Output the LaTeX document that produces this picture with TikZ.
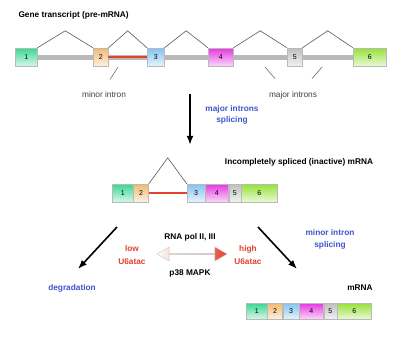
\documentclass[tikz,border=0pt]{standalone}
\usepackage{fontspec}
\setmainfont{Liberation Sans}
\usetikzlibrary{calc,arrows.meta,positioning,shapes.arrows,shadows,backgrounds}
\definecolor{exA}{RGB}{55,215,145}
\definecolor{exB}{RGB}{240,185,110}
\definecolor{exC}{RGB}{130,195,240}
\definecolor{exD}{RGB}{230,55,225}
\definecolor{exE}{RGB}{190,190,190}
\definecolor{exF}{RGB}{150,225,55}
\definecolor{labblue}{RGB}{60,85,205}
\definecolor{labred}{RGB}{225,65,45}
\tikzset{
  exon/.style={draw=gray!55, thin, top color=#1, bottom color=#1!20!white,
    minimum height=18pt, inner sep=0pt, font=\fontsize{7}{8}\selectfont,
    drop shadow={shadow xshift=0.8pt, shadow yshift=-1pt, opacity=0.25}},
  backbone/.style={draw=gray!55, line width=5pt},
  minorline/.style={draw=labred, line width=2.2pt},
  junction/.style={draw=gray!70!black, line width=0.6pt},
  pointer/.style={draw=gray!70!black, line width=0.5pt},
  arr/.style={-{Latex[length=3.2mm,width=2.4mm]}, line width=1.6pt},
  heading/.style={font=\fontsize{8.3}{10}\selectfont\bfseries},
  note/.style={font=\fontsize{8.3}{10}\selectfont, text=black!75},
  bluelab/.style={font=\fontsize{8.3}{11.5}\selectfont\bfseries, text=labblue, align=center},
  redlab/.style={font=\fontsize{8.3}{13}\selectfont\bfseries, text=labred, align=center}
}
\begin{document}
\begin{tikzpicture}[x=1pt, y=1pt]
  \useasboundingbox (0,0) rectangle (400,-338);

  % pre-mRNA
  \node[heading, anchor=west] (pre) at (15,-15) {Gene transcript (pre-mRNA)};
  \node[exon=exA, minimum width=22pt, anchor=west] (e1) at (15,-57) {1};
  \node[exon=exB, minimum width=15pt, anchor=west] (e2) at (93,-57) {2};
  \node[exon=exC, minimum width=17pt, anchor=west] (e3) at (147,-57) {3};
  \node[exon=exD, minimum width=25pt, anchor=west] (e4) at (208,-57) {4};
  \node[exon=exE, minimum width=15pt, anchor=west] (e5) at (287,-57) {5};
  \node[exon=exF, minimum width=33pt, anchor=west] (e6) at (353,-57) {6};
  \begin{scope}[on background layer]
    \draw[backbone] (e1.east) -- (e6.west);
  \end{scope}
  \draw[minorline] (e2.east) -- (e3.west);
  \foreach \a/\b in {e1/e2, e2/e3, e3/e4, e4/e5, e5/e6}
    \draw[junction] (\a.north east) -- ($(\a.north east)!0.5!(\b.north west)+(0,17)$) -- (\b.north west);

  \node[note] (lminor) at (104,-95) {minor intron};
  \node[note] (lmajor) at (293,-95) {major introns};
  \draw[pointer] ([shift={(6,9)}]lminor.north) -- ($(e2.east)!0.25!(e3.west)+(0,-10)$);
  \draw[pointer] ([shift={(-18,9)}]lmajor.north) -- ($(e4.east)!0.59!(e5.west)+(0,-10)$);
  \draw[pointer] ([shift={(19,9)}]lmajor.north) -- ($(e5.east)!0.39!(e6.west)+(0,-10)$);

  \coordinate (s1) at (190,-94);
  \coordinate (s2) at (190,-145);
  \draw[arr] (s1) -- (s2);
  \node[bluelab] (major) at (232,-115) {major introns\\splicing};

  % inactive mRNA
  \node[heading] (inact) at (299,-162) {Incompletely spliced (inactive) mRNA};
  \node[exon=exA, minimum width=21pt, anchor=west] (m1) at (112,-193) {1};
  \node[exon=exB, minimum width=15pt, right=0pt of m1] (m2) {2};
  \node[exon=exC, minimum width=18pt, right=38pt of m2] (m3) {3};
  \node[exon=exD, minimum width=23pt, right=0pt of m3] (m4) {4};
  \node[exon=exE, minimum width=12pt, right=0pt of m4] (m5) {5};
  \node[exon=exF, minimum width=36pt, right=0pt of m5] (m6) {6};
  \draw[minorline] (m2.east) -- (m3.west);
  \draw[junction] (m2.north east) -- ($(m2.north east)!0.5!(m3.north west)+(0,26)$) -- (m3.north west);

  % U6atac switch
  \coordinate (dl1) at (117,-227);
  \coordinate (dl2) at (78,-269);
  \coordinate (dr1) at (258,-227);
  \coordinate (dr2) at (297,-269);
  \draw[arr] (dl1) -- (dl2);
  \draw[arr] (dr1) -- (dr2);
  \node[heading] (pol) at (190,-237) {RNA pol II, III};
  \node[heading] (mapk) at (190,-273) {p38 MAPK};
  \node[redlab] (low) at (132,-255) {low\\U6atac};
  \node[redlab] (high) at (248,-255) {high\\U6atac};
  \node[double arrow, draw=gray!45, left color=white, right color=labred,
    minimum width=14pt, minimum height=70pt, inner sep=0pt,
    double arrow head extend=4pt, double arrow tip angle=60] (flux) at (192,-254) {};
  \node[bluelab] (degr) at (72,-288) {degradation};
  \node[bluelab] (minor) at (330,-239.5) {minor intron\\splicing};

  % mature mRNA
  \node[heading] (mrna) at (360,-288) {mRNA};
  \node[exon=exA, minimum width=21pt, minimum height=16pt, anchor=west] (b1) at (246,-311) {1};
  \node[exon=exB, minimum width=15pt, minimum height=16pt, right=0pt of b1] (b2) {2};
  \node[exon=exC, minimum width=16pt, minimum height=16pt, right=0pt of b2] (b3) {3};
  \node[exon=exD, minimum width=24pt, minimum height=16pt, right=0pt of b3] (b4) {4};
  \node[exon=exE, minimum width=13pt, minimum height=16pt, right=0pt of b4] (b5) {5};
  \node[exon=exF, minimum width=34pt, minimum height=16pt, right=0pt of b5] (b6) {6};
\end{tikzpicture}
\end{document}
